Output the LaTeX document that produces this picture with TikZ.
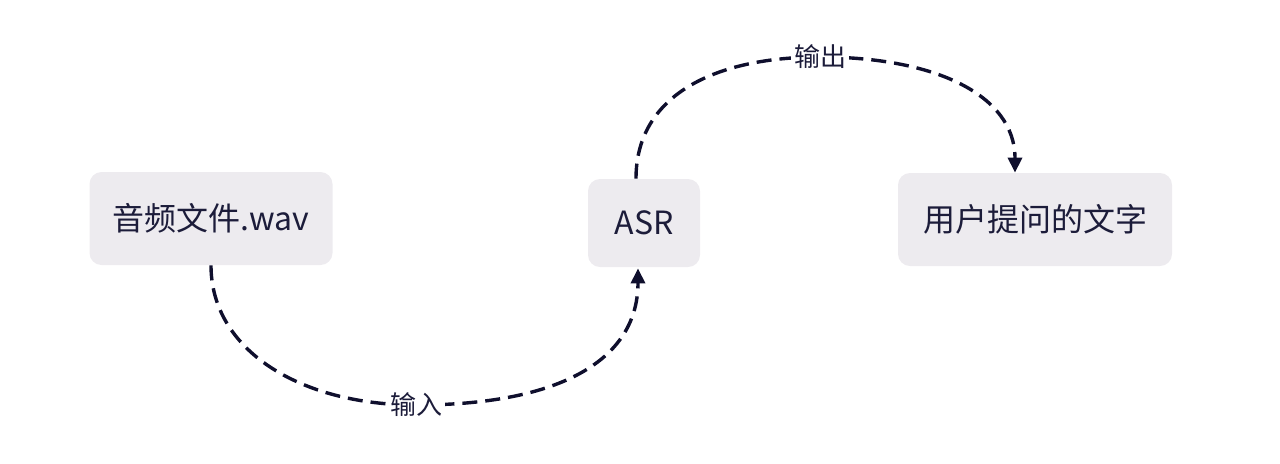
\documentclass[tikz,border=0pt]{standalone}
\usepackage{fontspec}
\newfontfamily\cjk{Noto Sans CJK SC}
\usetikzlibrary{arrows.meta}
\definecolor{boxfill}{HTML}{EDEBEF}
\definecolor{ink}{HTML}{1C1C3A}
\definecolor{edgecol}{HTML}{0F0F2D}
\tikzset{
  box/.style={draw=none, fill=boxfill, rounded corners=6pt, text=ink, font=\cjk\fontsize{16}{19}\selectfont, inner sep=0pt},
  lbl/.style={fill=white, text=ink, font=\cjk\fontsize{13}{15}\selectfont, inner sep=1.5pt},
  flow/.style={draw=edgecol, line width=1.7pt, dash pattern=on 7.5pt off 4pt, -{Triangle[width=7pt,length=7.5pt]}}
}
\begin{document}
\begin{tikzpicture}[x=0.5pt,y=-0.5pt]
\useasboundingbox (0,0) rectangle (1280,463);
\node[box, minimum width=121.5pt, minimum height=46.5pt] (wav) at (211,218.5) {音频文件.wav};
\node[box, minimum width=56pt, minimum height=44pt] (asr) at (644,223) {ASR};
\node[box, minimum width=137pt, minimum height=46.5pt] (txt) at (1035,219.5) {用户提问的文字};
\draw[flow] (wav.south) .. controls (211,350) and (300,405) .. (416,405) node[lbl] (in) {输入}
  .. controls (560,405) and (638,360) .. ([xshift=-3pt,yshift=-0.5pt]asr.south);
\draw[flow] ([xshift=-4pt]asr.north) .. controls (636,95) and (715,57) .. (820,57) node[lbl] (out) {输出}
  .. controls (935,57) and (1015,95) .. ([xshift=-10pt]txt.north);
\end{tikzpicture}
\end{document}
